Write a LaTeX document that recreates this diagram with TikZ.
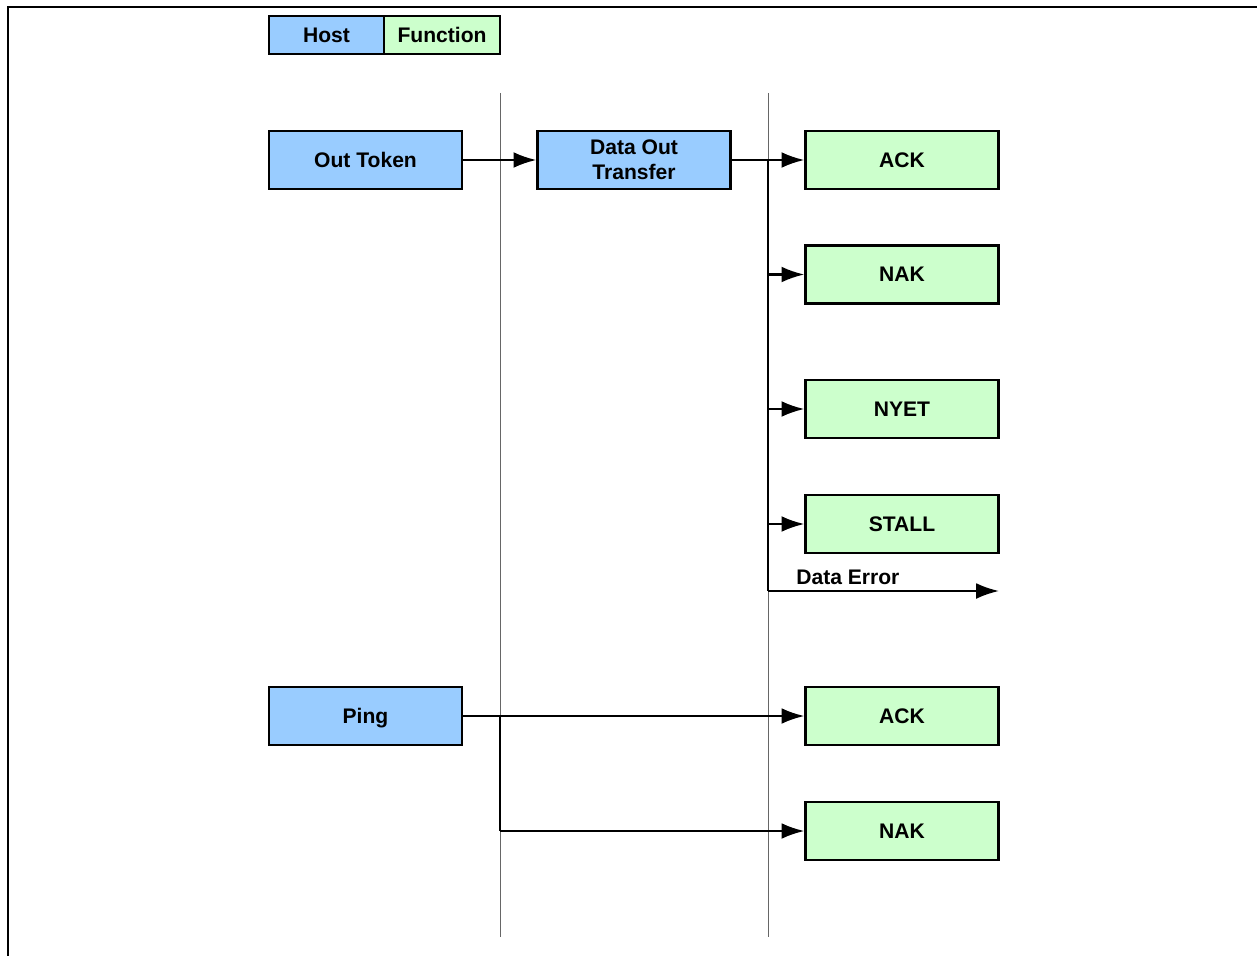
\documentclass[tikz,border=0pt]{standalone}
\usepackage{fontspec}
\setmainfont{Liberation Sans}
\definecolor{HostFill}{HTML}{99CCFF}
\definecolor{FunctionFill}{HTML}{CCFFCC}
\usetikzlibrary{arrows.meta}
\tikzset{
    host box/.style={
        draw=black, line width=1.3pt, fill=HostFill,
        minimum width=3.86cm, minimum height=1.16cm,
        font=\bfseries\fontsize{12}{14}\selectfont, align=center, inner sep=0pt
    },
    function box/.style={
        host box, fill=FunctionFill
    },
    legend box/.style={
        draw=black, line width=1.3pt, minimum height=0.76cm,
        font=\bfseries\fontsize{12}{14}\selectfont, inner sep=0pt
    },
    lane/.style={draw=black!60, line width=0.4pt},
    flow/.style={line width=1.3pt, -{Latex[length=13pt, width=9pt]}},
    branch/.style={line width=1.3pt}
}
\begin{document}
\begin{tikzpicture}[x=0.02cm, y=-0.02cm]

\useasboundingbox (0,0) rectangle (1257,956);

% Marco
\draw[line width=1.3pt] (8,956) -- (8,7) -- (1257,7);

% Leyenda
\node[legend box, fill=HostFill, minimum width=2.3cm] (legendHost) at (326.5,35) {Host};
\node[legend box, fill=FunctionFill, minimum width=2.32cm] (legendFunction) at (442,35) {Function};

% Carriles
\draw[lane] (500,93) -- (500,937);
\draw[lane] (768,93) -- (768,937);

% Transaccion de salida
\node[host box] (outToken) at (365.5,160) {Out Token};
\node[host box] (dataOut) at (634,160) {Data Out\\Transfer};
\node[function box] (ack) at (902,160) {ACK};
\node[function box] (nak) at (902,274.5) {NAK};
\node[function box] (nyet) at (902,409) {NYET};
\node[function box] (stall) at (902,524) {STALL};

\coordinate (forkOut) at (768,160);
\coordinate (errorStart) at (768,591);
\coordinate (errorEnd) at (999,591);

\draw[flow] (outToken) -- (dataOut);
\draw[flow] (dataOut) -- (ack);
\draw[branch] (forkOut) -- (errorStart);
\draw[flow] (forkOut |- nak) -- (nak);
\draw[flow] (forkOut |- nyet) -- (nyet);
\draw[flow] (forkOut |- stall) -- (stall);
\draw[flow] (errorStart) -- (errorEnd)
    node[pos=0.11, above right, inner sep=1pt, yshift=2pt, font=\bfseries\fontsize{12}{14}\selectfont] (dataError) {Data Error};

% Transaccion ping
\node[host box, text depth=0pt] (ping) at (365.5,716) {Ping};
\node[function box] (pingAck) at (902,716) {ACK};
\node[function box] (pingNak) at (902,831) {NAK};

\coordinate (forkPing) at (500,716);

\draw[flow] (ping) -- (pingAck);
\draw[branch] (forkPing) -- (forkPing |- pingNak);
\draw[flow] (forkPing |- pingNak) -- (pingNak);

\end{tikzpicture}
\end{document}
